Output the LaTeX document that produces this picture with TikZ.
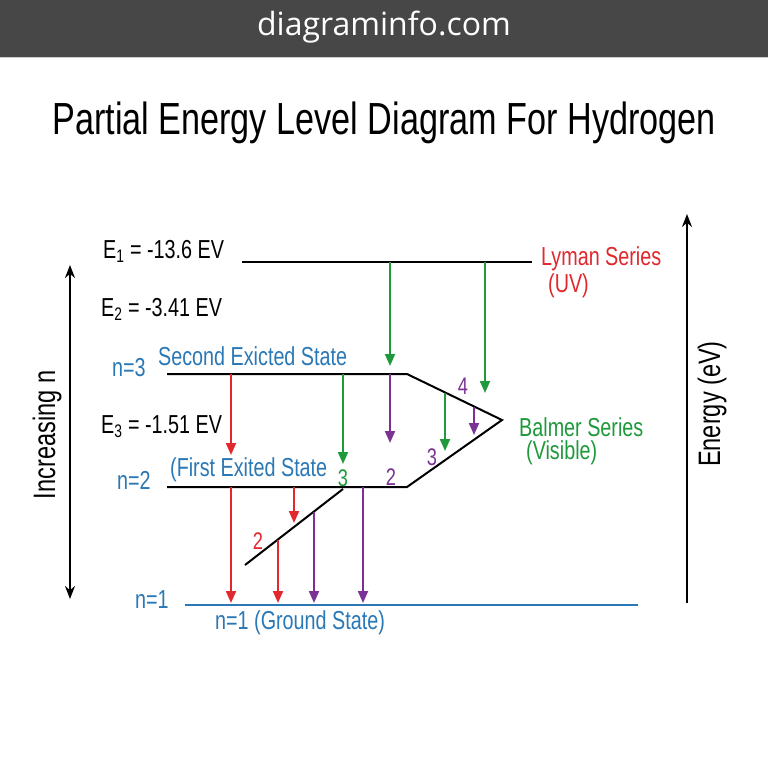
\documentclass[tikz,border=0pt]{standalone}
\usepackage{fontspec}
\setmainfont{Liberation Sans}
\newfontfamily\cond[FakeStretch=0.76]{Liberation Sans}
\newfontfamily\hdr{Open Sans}
\usetikzlibrary{arrows.meta}
\definecolor{hdrgray}{HTML}{474747}
\definecolor{cred}{HTML}{E0282E}
\definecolor{cgreen}{HTML}{1E9A3C}
\definecolor{cpurple}{HTML}{7B3294}
\definecolor{cblue}{HTML}{2A78B6}
\tikzset{
  lvl/.style={draw=black, line width=2pt},
  trans/.style={line width=2pt, -{Triangle[length=12pt,width=10pt]}},
  dbl/.style={line width=2pt, {Stealth[length=13pt,width=10pt]}-{Stealth[length=13pt,width=10pt]}},
  up/.style={line width=2pt, -{Stealth[length=13pt,width=10pt]}},
  lbl/.style={font=\cond\fontsize{26}{30}\selectfont, inner sep=0pt},
  num/.style={font=\cond\fontsize{24}{28}\selectfont, inner sep=0pt},
}
\begin{document}
\begin{tikzpicture}[x=1pt,y=-1pt]
\useasboundingbox (0,0) rectangle (768,768);
\fill[white] (0,0) rectangle (768,768);
\fill[hdrgray] (0,0) rectangle (768,57);
\draw[gray!40, line width=1pt] (0,57.5) -- (768,57.5);
\node[text=white, font=\hdr\fontsize{32}{38}\selectfont, inner sep=0pt] (site) at (384,27) {diagraminfo.com};
\node[font=\cond\fontsize{45}{52}\selectfont, anchor=base, inner sep=0pt] (title) at (384,134) {Partial Energy Level Diagram For Hydrogen};

% levels
\coordinate (e1L) at (242,262); \coordinate (e1R) at (532,262);
\coordinate (n3L) at (167,374); \coordinate (n3R) at (407,374);
\coordinate (tip) at (502,420);
\coordinate (n2R) at (407,487); \coordinate (n2L) at (167,487);
\coordinate (dA) at (245,565); \coordinate (dB) at (343,489);
\coordinate (n1L) at (185,605); \coordinate (n1R) at (638,605);
\draw[lvl] (e1L) -- (e1R);
\draw[lvl] (n3L) -- (n3R) -- (tip) -- (n2R) -- (n2L);
\draw[lvl] (dA) -- (dB);
\draw[draw=cblue, line width=2pt] (n1L) -- (n1R);

% side arrows
\coordinate (lt) at (70,265); \coordinate (lb) at (70,599);
\draw[dbl] (lb) -- (lt);
\coordinate (rb) at (687,603); \coordinate (rt) at (687,214);
\draw[up] (rb) -- (rt);

% transitions: red
\coordinate (r1s) at (231,374); \coordinate (r1e) at (231,455);
\coordinate (r2s) at (231,487); \coordinate (r2e) at (231,603);
\coordinate (r3s) at (294,487); \coordinate (r3e) at (294,523);
\coordinate (r4s) at (278,539.5); \coordinate (r4e) at (278,603);
\draw[trans, cred] (r1s) -- (r1e);
\draw[trans, cred] (r2s) -- (r2e);
\draw[trans, cred] (r3s) -- (r3e);
\draw[trans, cred] (r4s) -- (r4e);
% purple
\coordinate (p1s) at (314,511.5); \coordinate (p1e) at (314,603);
\coordinate (p2s) at (363,487); \coordinate (p2e) at (363,603);
\coordinate (p3s) at (390,374); \coordinate (p3e) at (390,443);
\coordinate (p4s) at (474,406.5); \coordinate (p4e) at (474,435);
\draw[trans, cpurple] (p1s) -- (p1e);
\draw[trans, cpurple] (p2s) -- (p2e);
\draw[trans, cpurple] (p3s) -- (p3e);
\draw[trans, cpurple] (p4s) -- (p4e);
% green
\coordinate (g1s) at (343,374); \coordinate (g1e) at (343,464);
\coordinate (g2s) at (390,262); \coordinate (g2e) at (390,366);
\coordinate (g3s) at (485,262); \coordinate (g3e) at (485,393);
\coordinate (g4s) at (445,392.5); \coordinate (g4e) at (445,451);
\draw[trans, cgreen] (g1s) -- (g1e);
\draw[trans, cgreen] (g2s) -- (g2e);
\draw[trans, cgreen] (g3s) -- (g3e);
\draw[trans, cgreen] (g4s) -- (g4e);

% energy labels
\node[lbl, anchor=west] (E1) at (103,251) {E\textsubscript{1} = -13.6 EV};
\node[lbl, anchor=west] (E2) at (101,309) {E\textsubscript{2} = -3.41 EV};
\node[lbl, anchor=west] (E3) at (101,427) {E\textsubscript{3} = -1.51 EV};

% blue labels
\node[lbl, anchor=west, text=cblue] (n3) at (112,368) {n=3};
\node[lbl, anchor=west, text=cblue] (sec) at (158,356) {Second Exicted State};
\node[lbl, anchor=west, text=cblue] (n2) at (117,480) {n=2};
\node[lbl, anchor=west, text=cblue] (fst) at (170,470) {(First Exited State};
\node[lbl, anchor=west, text=cblue] (n1) at (135,600) {n=1};
\node[lbl, anchor=west, text=cblue] (gnd) at (215,623) {n=1 (Ground State)};

% series labels
\node[lbl, anchor=west, text=cred] (ly) at (541,259) {Lyman Series};
\node[lbl, anchor=west, text=cred] (uv) at (548,286) {(UV)};
\node[lbl, anchor=west, text=cgreen] (ba) at (519,427) {Balmer Series};
\node[lbl, anchor=west, text=cgreen] (vis) at (526,453) {(Visible)};

% axis labels
\node[font=\cond\fontsize{31}{36}\selectfont, rotate=90, inner sep=0pt] (inc) at (47,435) {Increasing n};
\node[font=\cond\fontsize{31}{36}\selectfont, rotate=90, inner sep=0pt] (en) at (712,404) {Energy (eV)};

% numbers
\node[num, text=cred] (nr2) at (258,541) {2};
\node[num, text=cgreen] (ng3) at (343,478) {3};
\node[num, text=cpurple] (np2) at (391,477) {2};
\node[num, text=cpurple] (np4) at (463,386) {4};
\node[num, text=cpurple] (np3) at (432,457) {3};
\end{tikzpicture}
\end{document}
